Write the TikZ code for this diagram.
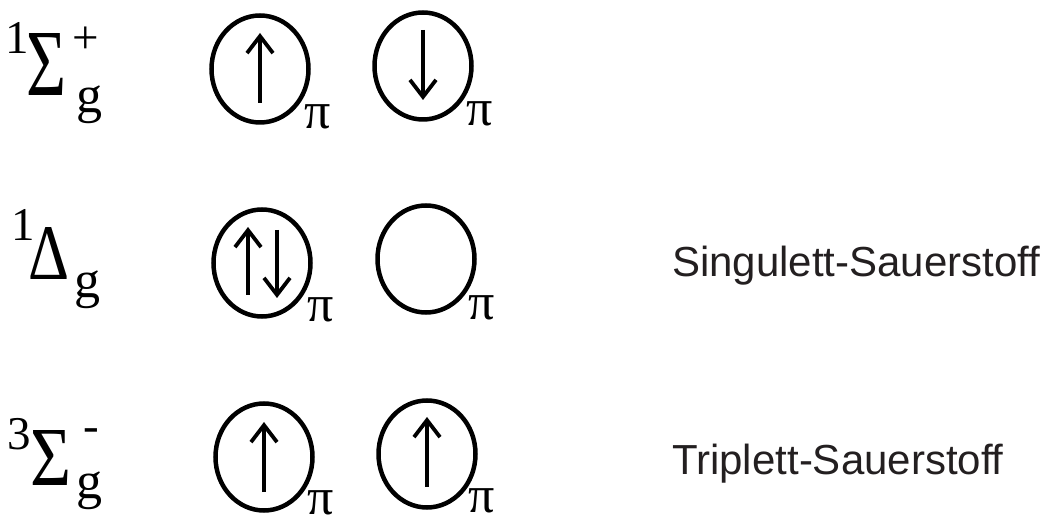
\documentclass[tikz,border=0pt]{standalone}
\usepackage{fontspec}
\setmainfont{Liberation Serif}
\newfontfamily\labelsans{Liberation Sans}
\usetikzlibrary{arrows.meta,shapes.geometric,calc}
\definecolor{ink}{HTML}{231F20}
\begin{document}
\begin{tikzpicture}[x=1pt,y=-1pt,
  orb/.style={draw, ellipse, line width=4.5pt, minimum width=97pt, minimum height=107pt, inner sep=0pt},
  spin/.style={line width=3.8pt, -{Straight Barb[length=17pt,width=26pt]}},
  glyph/.style={inner sep=0pt, outer sep=0pt},
  sup/.style={glyph, font=\fontsize{47}{47}\selectfont},
  sub/.style={glyph, font=\fontsize{52}{52}\selectfont},
  pisub/.style={glyph, font=\fontsize{52}{52}\selectfont},
  note/.style={inner sep=0pt, anchor=base west, text=ink, font=\labelsans\fontsize{42}{42}\selectfont}]
\useasboundingbox (0,0) rectangle (1050,518);

% ---- row 1: 1Sigma_g^+
\node[sup] (r1m) at (17.5,37.5) {1};
\node[glyph] (r1S) at (46.5,64) {\resizebox{40pt}{62pt}{Σ}};
\node[sup] (r1p) at (85.5,40) {+};
\node[sub] (r1g) at (89,105) {g};
\node[orb] (c11) at (260,69) {};
\node[orb] (c12) at (423,66) {};
\draw[spin] ($(c11)+(0,34)$) -- ($(c11)+(0,-36)$);
\draw[spin] ($(c12)+(0,-36)$) -- ($(c12)+(0,34)$);
\node[pisub] (p11) at (318,117) {π};
\node[pisub] (p12) at (480,114) {π};

% ---- row 2: 1Delta_g
\node[sup] (r2m) at (23,224.5) {1};
\node[glyph] (r2D) at (49,254) {\resizebox{41pt}{52pt}{Δ}};
\node[sub] (r2g) at (87.5,289.5) {g};
\node[orb] (c21) at (262,263) {};
\node[orb] (c22) at (426,259) {};
\draw[spin] ($(c21)+(-14,32)$) -- ($(c21)+(-14,-36)$);
\draw[spin] ($(c21)+(15,-33)$) -- ($(c21)+(15,35)$);
\node[pisub] (p21) at (321,310) {π};
\node[pisub] (p22) at (482,308) {π};
\node[note] (t1) at (672,277) {Singulett-Sauerstoff};

% ---- row 3: 3Sigma_g^-
\node[sup] (r3m) at (19,434.5) {3};
\node[glyph] (r3S) at (51,457.5) {\resizebox{41pt}{55pt}{Σ}};
\node[sup] (r3n) at (91.5,435) {-};
\node[sub] (r3g) at (89,490.5) {g};
\node[orb] (c31) at (264,457) {};
\node[orb] (c32) at (427,454) {};
\draw[spin] ($(c31)+(0,35)$) -- ($(c31)+(0,-35)$);
\draw[spin] ($(c32)+(0,33)$) -- ($(c32)+(0,-37)$);
\node[pisub] (p31) at (321,503) {π};
\node[pisub] (p32) at (482,501) {π};
\node[note] (t2) at (672,475) {Triplett-Sauerstoff};
\end{tikzpicture}
\end{document}
